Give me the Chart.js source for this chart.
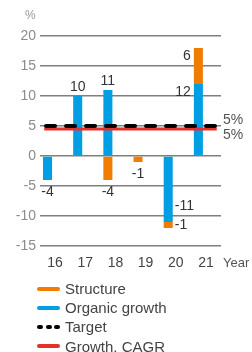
<!DOCTYPE html>
<html>
<head>
<meta charset="utf-8">
<script src="https://cdn.jsdelivr.net/npm/chart.js@4.4.1/dist/chart.umd.min.js"></script>
<style>
  body { margin: 0; background: #fff; font-family: "Liberation Sans", Arial, sans-serif; }
  #wrap { position: relative; width: 252px; height: 280px; }
  #legend { position: absolute; left: 37px; top: 279px; }
  .row { height: 19.2px; display: flex; align-items: center; font-size: 15px; color: #444; }
  .sw { width: 23px; height: 4px; margin-right: 5px; border-radius: 2px; }
  .dash { width: 23px; height: 4px; margin-right: 5px; display: flex; justify-content: space-between; }
  .dash span { width: 6px; height: 4px; background: #000; border-radius: 2px; }
</style>
</head>
<body>
<div id="wrap"><canvas id="c" width="252" height="280"></canvas></div>
<div id="legend"></div>
<script>
const years = ['16', '17', '18', '19', '20', '21'];
const organic = [-4, 10, 11, 0, -11, 12];
const structure = [0, 0, -4, -1, -1, 6];
const target = 5;
const cagr = 4.5;
const lineLabels = ['5%', '5%'];
const yTicks = [20, 15, 10, 5, 0, -5, -10, -15];

const BLUE = '#009fe3', ORANGE = '#f07d00', RED = '#e4312b';
const FONT = '"Liberation Sans", Arial, sans-serif';

const extras = {
  id: 'extras',
  afterDatasetsDraw(chart) {
    const ctx = chart.ctx;
    const area = chart.chartArea;
    const org = chart.getDatasetMeta(0), str = chart.getDatasetMeta(1);
    ctx.save();
    ctx.font = '14px ' + FONT;
    ctx.fillStyle = '#333';
    years.forEach((yr, i) => {
      const o = organic[i], s = structure[i];
      const ob = org.data[i], sb = str.data[i];
      const sameSide = o !== 0 && s !== 0 && Math.sign(o) === Math.sign(s);
      if (sameSide) {
        ctx.textBaseline = 'middle';
        if (o > 0) {
          ctx.textAlign = 'right';
          ctx.fillText(s, sb.x - sb.width / 2 - 3, sb.y + 8);
          ctx.fillText(o, ob.x - ob.width / 2 - 3, ob.y + 8);
        } else {
          ctx.textAlign = 'left';
          const mid = (sb.y + sb.base) / 2;
          ctx.fillText(s, sb.x + sb.width / 2 + 2, mid);
          ctx.fillText(o, ob.x + ob.width / 2 + 2, mid - 19);
        }
      } else {
        [[o, ob], [s, sb]].forEach(([v, b]) => {
          if (!v) return;
          ctx.textAlign = 'center';
          ctx.textBaseline = 'middle';
          ctx.fillText(v, b.x, v > 0 ? b.y - 9 : b.y + 12);
        });
      }
    });
    // line value labels
    const y = chart.scales.y;
    ctx.fillStyle = '#555';
    ctx.textAlign = 'left';
    ctx.textBaseline = 'middle';
    ctx.fillText(lineLabels[0], area.right + 2, y.getPixelForValue(target) - 6);
    ctx.fillText(lineLabels[1], area.right + 2, y.getPixelForValue(cagr) + 6);
    // axis captions
    ctx.font = '13px ' + FONT;
    ctx.fillText('Year', area.right + 2, 263);
    ctx.fillStyle = '#999';
    ctx.font = '12px ' + FONT;
    ctx.fillText('%', 25, 16);
    ctx.restore();
  }
};

new Chart(document.getElementById('c'), {
  data: {
    labels: years,
    datasets: [
      { type: 'bar', label: 'Organic growth', data: organic, backgroundColor: BLUE, order: 2 },
      { type: 'bar', label: 'Structure', data: structure, backgroundColor: ORANGE, order: 2 },
      { type: 'line', label: 'Growth, CAGR', xAxisID: 'x2', stack: 'c',
        data: [{ x: -0.36, y: cagr }, { x: 5.36, y: cagr }],
        borderColor: RED, borderWidth: 3, pointRadius: 0, order: 1 },
      { type: 'line', label: 'Target', xAxisID: 'x2', stack: 't',
        data: [{ x: -0.3, y: target }, { x: 5.3, y: target }],
        borderColor: '#000', borderWidth: 4, borderDash: [9, 11], borderCapStyle: 'round',
        pointRadius: 0, order: 0 }
    ]
  },
  options: {
    responsive: false,
    animation: false,
    layout: { padding: { top: 36, right: 31, left: 0, bottom: 0 } },
    datasets: { bar: { categoryPercentage: 1, barPercentage: 0.6 } },
    plugins: { legend: { display: false }, tooltip: { enabled: false } },
    scales: {
      x: {
        stacked: true,
        grid: { display: false, drawTicks: false },
        border: { display: false },
        ticks: { color: '#444', font: { family: FONT, size: 14 }, padding: 9 },
        afterFit: s => { s.height = 34; }
      },
      x2: { type: 'linear', display: false, min: -0.5, max: 5.5 },
      y: {
        stacked: true,
        min: -15, max: 20,
        afterBuildTicks: s => { s.ticks = yTicks.map(v => ({ value: v })); },
        grid: { color: '#7f7f7f', lineWidth: 1.5, drawTicks: false },
        border: { display: false },
        ticks: { color: '#8c8c8c', font: { family: FONT, size: 14 }, padding: 4 },
        afterFit: s => { s.width = 40; }
      }
    }
  },
  plugins: [extras]
});

const legendItems = [
  ['Structure', 'bar', ORANGE],
  ['Organic growth', 'bar', BLUE],
  ['Target', 'dash', '#000'],
  ['Growth, CAGR', 'bar', RED]
];
document.getElementById('legend').innerHTML = legendItems.map(([name, kind, col]) =>
  '<div class="row">' +
  (kind === 'dash' ? '<div class="dash"><span></span><span></span><span></span></div>'
                   : '<div class="sw" style="background:' + col + '"></div>') +
  name + '</div>').join('');
</script>
</body>
</html>
